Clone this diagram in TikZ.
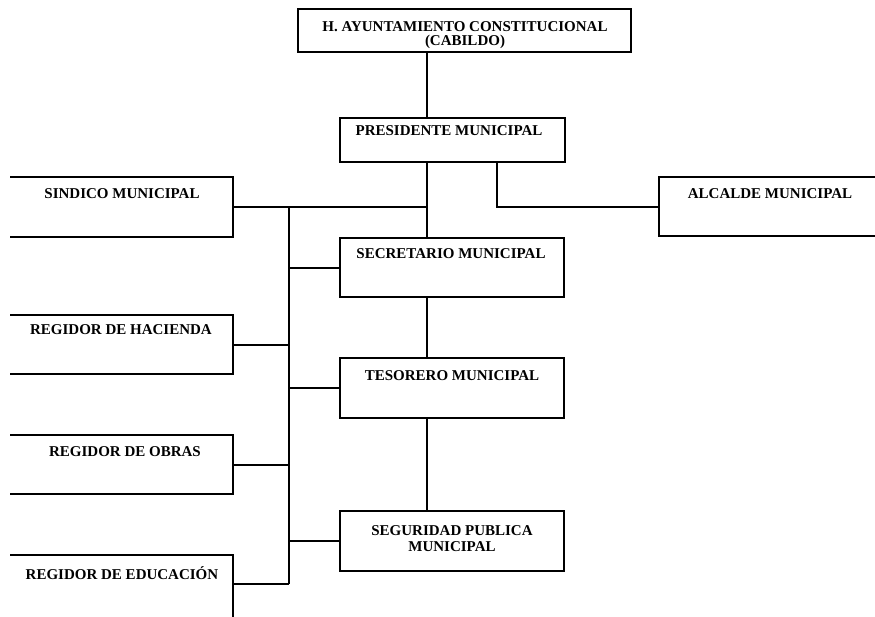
\documentclass[tikz,border=0pt]{standalone}
\usepackage{fontspec}
\setmainfont{Liberation Serif}
\begin{document}
\begin{tikzpicture}[x=1pt,y=-1pt,
  ln/.style={line width=2pt,black},
  box/.style={draw=none,inner sep=0pt,outer sep=0pt,anchor=north west,rectangle},
  lbl/.style={inner sep=0pt,font=\fontsize{15}{14}\selectfont\bfseries,align=center,anchor=center}]
\useasboundingbox (0,0) rectangle (875,616);
% boxes (named, outlines drawn below)
\node[box,minimum width=333pt,minimum height=43pt] (cab) at (298,9) {};
\node[box,minimum width=225pt,minimum height=44pt] (pres) at (340,118) {};
\node[box,minimum width=223pt,minimum height=60pt] (sin) at (10,177) {};
\node[box,minimum width=222pt,minimum height=59pt] (alc) at (659,177) {};
\node[box,minimum width=224pt,minimum height=59pt] (sec) at (340,238) {};
\node[box,minimum width=223pt,minimum height=59pt] (hac) at (10,315) {};
\node[box,minimum width=224pt,minimum height=60pt] (tes) at (340,358) {};
\node[box,minimum width=223pt,minimum height=59pt] (obr) at (10,435) {};
\node[box,minimum width=224pt,minimum height=60pt] (seg) at (340,511) {};
\node[box,minimum width=223pt,minimum height=57pt] (edu) at (10,555) {};
% outlines
\draw[ln] (cab.north west) rectangle (cab.south east);
\draw[ln] (pres.north west) rectangle (pres.south east);
\draw[ln] (sec.north west) rectangle (sec.south east);
\draw[ln] (tes.north west) rectangle (tes.south east);
\draw[ln] (seg.north west) rectangle (seg.south east);
\draw[ln] (alc.north east) -- (alc.north west) -- (alc.south west) -- (alc.south east);
\draw[ln] (sin.north west) -- (sin.north east) -- (sin.south east) -- (sin.south west);
\draw[ln] (hac.north west) -- (hac.north east) -- (hac.south east) -- (hac.south west);
\draw[ln] (obr.north west) -- (obr.north east) -- (obr.south east) -- (obr.south west);
\draw[ln] (edu.north west) -- (edu.north east) -- ([yshift=-8pt]edu.south east);
% labels
\node[lbl] (cabt) at (465,35) {H. AYUNTAMIENTO CONSTITUCIONAL\\(CABILDO)};
\node[lbl] (prest) at (449,131) {PRESIDENTE MUNICIPAL};
\node[lbl] (sint) at (122,194) {SINDICO MUNICIPAL};
\node[lbl] (alct) at (770,194) {ALCALDE MUNICIPAL};
\node[lbl] (sect) at (451,254) {SECRETARIO MUNICIPAL};
\node[lbl] (hact) at (121,330) {REGIDOR DE HACIENDA};
\node[lbl] (test) at (452,376) {TESORERO MUNICIPAL};
\node[lbl] (obrt) at (125,452) {REGIDOR DE OBRAS};
\node[lbl] (segt) at (452,539) {SEGURIDAD PUBLICA\\[2pt]MUNICIPAL};
\node[lbl] (edut) at (122,573) {REGIDOR DE EDUCACIÓN};
% connector columns
\coordinate (cx) at (427,0);
\coordinate (bx) at (289,0);
\coordinate (ax) at (497,0);
\draw[ln] (cab.south -| cx) -- (pres.north -| cx);
\draw[ln] (pres.south -| cx) -- (sec.north -| cx);
\draw[ln] (sec.south -| cx) -- (tes.north -| cx);
\draw[ln] (tes.south -| cx) -- (seg.north -| cx);
\draw[ln] (pres.south -| ax) |- (alc.west);
\draw[ln] (sin.east) -- (sin.east -| cx);
\draw[ln] (sin.east -| bx) -- (edu.east -| bx);
\draw[ln] (sec.west -| bx) -- (sec.west);
\draw[ln] (hac.east) -- (hac.east -| bx);
\draw[ln] (tes.west -| bx) -- (tes.west);
\draw[ln] (obr.east) -- (obr.east -| bx);
\draw[ln] (seg.west -| bx) -- (seg.west);
\draw[ln] (edu.east) -- (edu.east -| bx);
\end{tikzpicture}
\end{document}
